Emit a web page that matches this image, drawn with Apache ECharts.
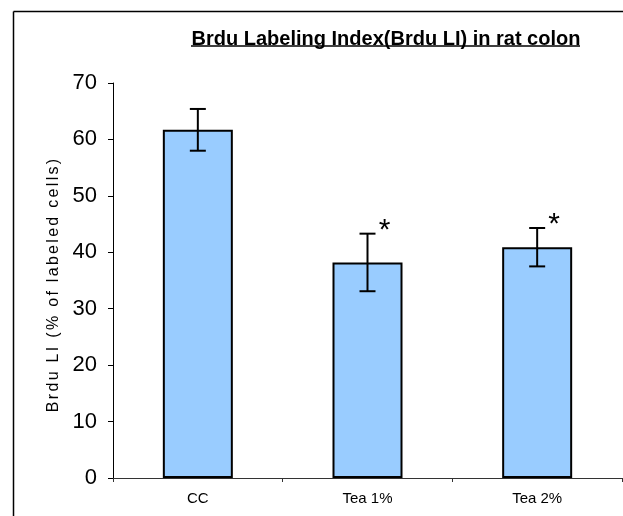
<!DOCTYPE html>
<html>
<head>
<meta charset="utf-8">
<script src="https://cdn.jsdelivr.net/npm/echarts@6/dist/echarts.min.js"></script>
<style>
html,body{margin:0;padding:0;background:#fff;}
#chart{width:623px;height:516px;}
</style>
</head>
<body>
<div id="chart"></div>
<script>
var categories = ['CC', 'Tea 1%', 'Tea 2%'];
var means = [61.7, 38.2, 40.9];
var errors = [3.7, 5.1, 3.4];
var marks = ['', '*', '*'];
var yTicks = [0, 10, 20, 30, 40, 50, 60, 70];
var titleText = 'Brdu Labeling Index(Brdu LI) in rat colon';
var yName = 'Brdu LI (% of labeled cells)';
var yNameSpacing = 2.3;
var yNameShift = -5;

// draw the y-axis name with extra letter spacing, one glyph at a time
(function () {
  var proto = CanvasRenderingContext2D.prototype;
  var orig = proto.fillText;
  proto.fillText = function (t, x, y, w) {
    if (t === yName) {
      var chars = t.split('');
      var widths = chars.map(function (c) { return this.measureText(c).width; }, this);
      var total = widths.reduce(function (a, b) { return a + b; }, 0) + yNameSpacing * (chars.length - 1);
      var align = this.textAlign;
      var start = x;
      if (align === 'center') start = x - total / 2;
      else if (align === 'right' || align === 'end') start = x - total;
      start += yNameShift;
      this.textAlign = 'left';
      var cx = start;
      for (var i = 0; i < chars.length; i++) {
        orig.call(this, chars[i], cx, y);
        cx += widths[i] + yNameSpacing;
      }
      this.textAlign = align;
    } else if (w === undefined) {
      orig.call(this, t, x, y);
    } else {
      orig.call(this, t, x, y, w);
    }
  };
})();

var chart = echarts.init(document.getElementById('chart'));
var errData = categories.map(function (c, i) {
  return [i, means[i] - errors[i], means[i] + errors[i], marks[i]];
});

chart.setOption({
  animation: false,
  backgroundColor: '#fff',
  title: {
    text: titleText,
    left: 381, top: 24, textAlign: 'center',
    textStyle: { fontFamily: 'Liberation Sans, Arial', fontWeight: 'bold', fontSize: 20, color: '#000' }
  },
  graphic: [
    { type: 'line', shape: { x1: 13.5, y1: 516, x2: 13.5, y2: 11.5 }, style: { stroke: '#000', lineWidth: 1.5 } },
    { type: 'line', shape: { x1: 13.5, y1: 11.5, x2: 623, y2: 11.5 }, style: { stroke: '#000', lineWidth: 1.5 } },
    { type: 'line', shape: { x1: 191, y1: 46, x2: 580, y2: 46 }, style: { stroke: '#000', lineWidth: 1.5 } }
  ],
  grid: { left: 113, right: 1, top: 83, bottom: 38 },
  xAxis: {
    type: 'category',
    data: categories,
    axisLine: { lineStyle: { color: '#333', width: 1 } },
    axisTick: { show: true, length: 4, lineStyle: { color: '#333' } },
    axisLabel: { fontFamily: 'Liberation Sans, Arial', fontSize: 15, color: '#000', margin: 13 }
  },
  yAxis: {
    type: 'value',
    min: yTicks[0], max: yTicks[yTicks.length - 1], interval: 10,
    name: yName,
    nameLocation: 'middle', nameGap: 51, nameRotate: 90,
    nameTextStyle: { fontFamily: 'Liberation Sans, Arial', fontSize: 16, color: '#000' },
    axisLine: { show: true, lineStyle: { color: '#000', width: 1 } },
    axisTick: { show: true, length: 5, lineStyle: { color: '#000' } },
    axisLabel: { fontFamily: 'Liberation Sans, Arial', fontSize: 22, color: '#000', margin: 16 },
    splitLine: { show: false }
  },
  series: [
    {
      type: 'bar',
      data: means,
      barWidth: 70,
      itemStyle: { color: '#99CCFF', borderColor: '#000', borderWidth: 2 }
    },
    {
      type: 'custom',
      data: errData,
      renderItem: function (params, api) {
        var x = api.value(0);
        var lo = api.coord([x, api.value(1)]);
        var hi = api.coord([x, api.value(2)]);
        var hw = 8;
        var st = { stroke: '#000', lineWidth: 2 };
        var children = [
          { type: 'line', shape: { x1: hi[0], y1: hi[1], x2: lo[0], y2: lo[1] }, style: st },
          { type: 'line', shape: { x1: hi[0] - hw, y1: hi[1], x2: hi[0] + hw, y2: hi[1] }, style: st },
          { type: 'line', shape: { x1: lo[0] - hw, y1: lo[1], x2: lo[0] + hw, y2: lo[1] }, style: st }
        ];
        var m = api.value(3);
        if (m) {
          children.push({
            type: 'text',
            style: { text: String(m), x: hi[0] + 17, y: hi[1] - 18, textAlign: 'center', textVerticalAlign: 'top',
              font: '30px Liberation Sans, Arial', fill: '#000' }
          });
        }
        return { type: 'group', children: children };
      },
      z: 10
    }
  ]
});
</script>
</body>
</html>
